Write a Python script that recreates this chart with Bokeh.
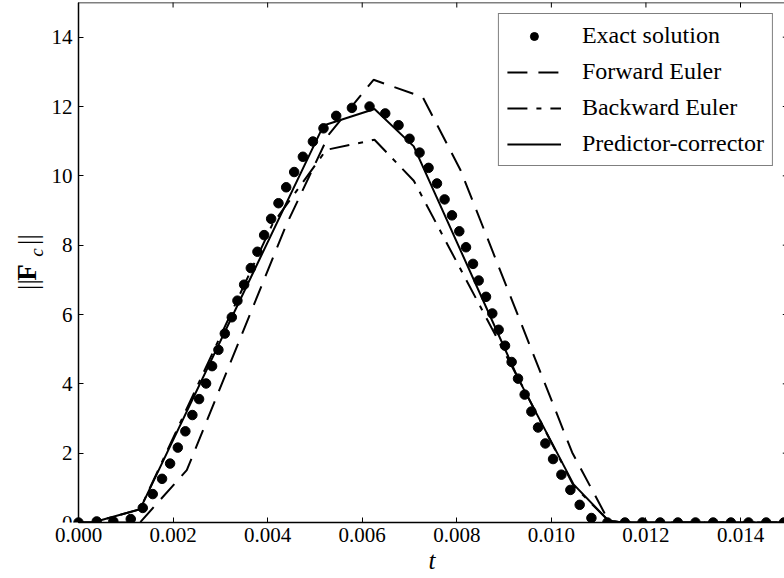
import math
from bokeh.plotting import figure
from bokeh.models import (Range1d, FixedTicker, NumeralTickFormatter, LinearAxis,
                          Legend, LegendItem, Label, ColumnDataSource, Title)
from bokeh.embed import file_html
from bokeh.resources import INLINE

# ---------------- data ----------------
exact_t = [0.0, 0.000385, 0.000737, 0.001105, 0.001359, 0.00157, 0.001767, 0.001937,
           0.0021, 0.00226, 0.002408, 0.00255, 0.002698, 0.002825, 0.002959, 0.003094,
           0.003242, 0.003361, 0.003503, 0.003644, 0.003784, 0.003926, 0.004074, 0.004229,
           0.004392, 0.004561, 0.004745, 0.004957, 0.005181, 0.00545, 0.005782, 0.006155,
           0.006487, 0.006768, 0.007001, 0.007213, 0.007403, 0.007581, 0.007742, 0.007898,
           0.008053, 0.008195, 0.008343, 0.008463, 0.008618, 0.008751, 0.008885, 0.00902,
           0.00916, 0.009295, 0.009435, 0.009577, 0.009718, 0.009873, 0.010036, 0.010212,
           0.010402, 0.010599, 0.010847, 0.011185, 0.011556, 0.011926, 0.012301, 0.012675,
           0.013048, 0.013422, 0.013797, 0.014169, 0.014544, 0.014918]
exact_f = [0.0, 0.03, 0.03, 0.1, 0.42, 0.82, 1.26, 1.70,
           2.16, 2.63, 3.10, 3.56, 4.01, 4.51, 4.98, 5.45,
           5.92, 6.40, 6.86, 7.34, 7.81, 8.29, 8.76, 9.21,
           9.67, 10.11, 10.55, 10.99, 11.37, 11.73, 11.96, 12.00,
           11.80, 11.46, 11.07, 10.67, 10.23, 9.78, 9.32, 8.86,
           8.40, 7.94, 7.46, 6.98, 6.51, 6.03, 5.56, 5.10,
           4.63, 4.15, 3.69, 3.20, 2.74, 2.28, 1.83, 1.38,
           0.94, 0.51, 0.13, 0.0, 0.0, 0.0, 0.0, 0.0,
           0.0, 0.0, 0.0, 0.0, 0.0, 0.0]

forward_t = [0.0, 0.0013, 0.00229, 0.00439, 0.0053, 0.00624, 0.00728, 0.00808,
             0.01044, 0.01121, 0.0115, 0.015]
forward_f = [0.0, 0.0, 1.51, 8.57, 11.2, 12.77, 12.27, 10.16,
             2.02, 0.05, 0.0, 0.0]

backward_t = [0.0, 0.0003, 0.0013, 0.0041, 0.00524, 0.00626, 0.00709, 0.0094,
              0.01047, 0.01121, 0.0115, 0.015]
backward_f = [0.0, 0.0, 0.38, 8.6, 10.75, 11.04, 9.86, 3.9,
              1.06, 0.05, 0.0, 0.0]

pc_t = [0.0, 0.0003, 0.0013, 0.00518, 0.00626, 0.00709, 0.0093, 0.01047, 0.01121,
        0.0115, 0.015]
pc_f = [0.0, 0.0, 0.38, 11.45, 11.93, 10.85, 4.15, 1.1, 0.05,
        0.0, 0.0]

x_ticks = [0.0, 0.002, 0.004, 0.006, 0.008, 0.010, 0.012, 0.014]
y_ticks = [0, 2, 4, 6, 8, 10, 12, 14]
x_min, x_max = 0.0, 0.015   # axis limits of the original plot (right part cut by the window)
y_min, y_max = 0.0, 15.0

series_names = ["Exact solution", "Forward Euler", "Backward Euler", "Predictor-corrector"]

# ---------------- figure ----------------
FONT = "Liberation Serif"
W, H = 784, 578
LEFT_PX = 78            # where t = 0 sits
PX_PER_T = 47286.0      # horizontal scale of the original
BOTTOM_BORDER = 56
FRAME_BOTTOM = H - BOTTOM_BORDER
x_start = x_min - LEFT_PX / PX_PER_T
x_end = x_min + (W - LEFT_PX) / PX_PER_T

p = figure(width=W, height=H, output_backend="svg", toolbar_location=None,
           x_range=Range1d(x_start, x_end), y_range=Range1d(y_min, y_max),
           x_axis_location=None, y_axis_location=None,
           min_border_left=0, min_border_right=0, min_border_top=2,
           min_border_bottom=BOTTOM_BORDER)
p.outline_line_color = None
p.grid.grid_line_color = None
p.background_fill_color = "white"
p.border_fill_color = "white"

def styled_axis(**kw):
    ax = LinearAxis(**kw)
    ax.axis_line_color = "black"
    ax.axis_line_width = 1.5
    ax.major_tick_in = 5
    ax.major_tick_out = 0
    ax.minor_tick_in = 0
    ax.minor_tick_out = 0
    ax.major_tick_line_width = 1
    ax.major_tick_line_color = "black"
    ax.major_label_text_font = FONT
    ax.major_label_text_font_size = "21px"
    ax.major_label_text_color = "black"
    return ax

xb = styled_axis(bounds=(x_min, x_end))
xb.ticker = FixedTicker(ticks=x_ticks)
xb.formatter = NumeralTickFormatter(format="0.000")
xb.major_label_standoff = 5
p.add_layout(xb, "below")

# x axis label "t", placed under the plotted range (not the whole canvas)
p.add_layout(Title(text="t", align="left", offset=428, standoff=0,
                   text_font=FONT, text_font_size="25px", text_font_style="italic",
                   text_color="black"), "below")

yl = styled_axis(fixed_location=x_min, bounds=(y_min, y_max))
yl.ticker = FixedTicker(ticks=y_ticks)
yl.major_label_standoff = 6
p.add_layout(yl, "left")

# top spine (line only) and inward ticks on top and right, as in the original frame
xt = styled_axis(fixed_location=y_max, bounds=(x_min, x_end))
xt.ticker = FixedTicker(ticks=[])
p.add_layout(xt, "above")
p.scatter(x=x_ticks, y=[y_max] * len(x_ticks), marker="dash", angle=math.pi / 2,
          size=10, line_color="black", line_width=1)
p.scatter(x=[x_max] * len(y_ticks), y=y_ticks, marker="dash",
          size=10, line_color="black", line_width=1)

# ---------------- series ----------------
src_exact = ColumnDataSource(dict(t=exact_t, f=exact_f))
src_fw = ColumnDataSource(dict(t=forward_t, f=forward_f))
src_bw = ColumnDataSource(dict(t=backward_t, f=backward_f))
src_pc = ColumnDataSource(dict(t=pc_t, f=pc_f))

r_fw = p.line("t", "f", source=src_fw, line_color="black", line_width=2, line_dash="20 11")
r_bw = p.line("t", "f", source=src_bw, line_color="black", line_width=2, line_dash="20 9 5 9")
r_pc = p.line("t", "f", source=src_pc, line_color="black", line_width=2)
r_ex = p.scatter("t", "f", source=src_exact, size=9.5, marker="circle",
                 fill_color="black", line_color="black")

legend = Legend(items=[LegendItem(label=series_names[0], renderers=[r_ex]),
                       LegendItem(label=series_names[1], renderers=[r_fw]),
                       LegendItem(label=series_names[2], renderers=[r_bw]),
                       LegendItem(label=series_names[3], renderers=[r_pc])],
                location="top_right")
legend.margin = 11
legend.padding = 8
legend.spacing = 9
legend.glyph_width = 54
legend.glyph_height = 20
legend.label_standoff = 21
legend.label_text_font = FONT
legend.label_text_font_size = "24px"
legend.label_text_color = "black"
legend.border_line_color = "black"
legend.border_line_width = 1.3
legend.background_fill_alpha = 1.0
p.add_layout(legend, "center")

# ---------------- y axis label ||F_c|| (composed, bold F, italic subscript c) ----------------
def lab(text, ax, ay, size, style="normal"):
    return Label(x=ax, y=FRAME_BOTTOM - ay, x_units="screen", y_units="screen", text=text,
                 angle=math.pi / 2, text_align="center", text_baseline="middle",
                 text_font=FONT, text_font_size=size, text_font_style=style,
                 text_color="black")

p.add_layout(lab("||", 27, 284, "27px"))
p.add_layout(lab("F", 26, 272, "27px", "bold"))
p.add_layout(lab("c", 36, 252, "19px", "italic"))
p.add_layout(lab("||", 27, 239, "27px"))

open("out.html", "w").write(file_html(p, INLINE))
